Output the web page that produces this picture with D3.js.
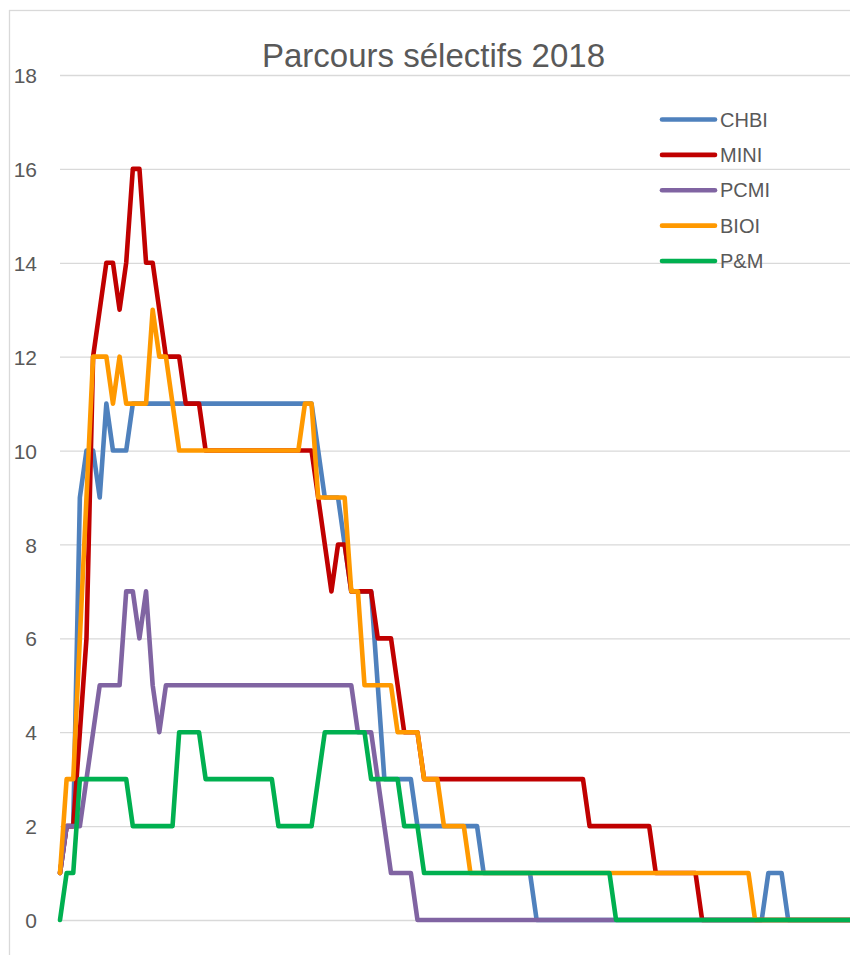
<!DOCTYPE html>
<html><head><meta charset="utf-8">
<script src="https://cdn.jsdelivr.net/npm/d3@7/dist/d3.min.js"></script>
<style>body{margin:0;background:#fff}svg{display:block}</style>
</head><body>
<svg id="chart" width="850" height="955"></svg>
<script>
const chartTitle = "Parcours sélectifs 2018";
const seriesNames = ["CHBI", "MINI", "PCMI", "BIOI", "P&M"];
const seriesColors = ["#4F81BD", "#C00000", "#8064A2", "#FF9900", "#00B050"];
const yTickValues = [0, 2, 4, 6, 8, 10, 12, 14, 16, 18];

const CHBI = [
 1,2,2,9,10,10,9,11,10,10,
 10,11,11,11,11,11,11,11,11,11,
 11,11,11,11,11,11,11,11,11,11,
 11,11,11,11,11,11,11,11,11,10,
 9,9,9,8,7,7,7,7,5,3,
 3,3,3,3,2,2,2,2,2,2,
 2,2,2,2,1,1,1,1,1,1,
 1,1,0,0,0,0,0,0,0,0,
 0,0,0,0,0,0,0,0,0,0,
 0,0,0,0,0,0,0,0,0,0,
 0,0,0,0,0,0,0,1,1,1,
 0,0,0,0,0,0,0,0,0,0,
 0,0,0,0,0];
const MINI = [
 1,2,2,4,6,12,13,14,14,13,
 14,16,16,14,14,13,12,12,12,11,
 11,11,10,10,10,10,10,10,10,10,
 10,10,10,10,10,10,10,10,10,9,
 8,7,8,8,7,7,7,7,6,6,
 6,5,4,4,4,3,3,3,3,3,
 3,3,3,3,3,3,3,3,3,3,
 3,3,3,3,3,3,3,3,3,3,
 2,2,2,2,2,2,2,2,2,2,
 1,1,1,1,1,1,1,0,0,0,
 0,0,0,0,0,0,0,0,0,0,
 0,0,0,0,0,0,0,0,0,0,
 0,0,0,0,0];
const PCMI = [
 1,2,2,2,3,4,5,5,5,5,
 7,7,6,7,5,4,5,5,5,5,
 5,5,5,5,5,5,5,5,5,5,
 5,5,5,5,5,5,5,5,5,5,
 5,5,5,5,5,4,4,4,3,2,
 1,1,1,1,0,0,0,0,0,0,
 0,0,0,0,0,0,0,0,0,0,
 0,0,0,0,0,0,0,0,0,0,
 0,0,0,0,0,0,0,0,0,0,
 0,0,0,0,0,0,0,0,0,0,
 0,0,0,0,0,0,0,0,0,0,
 0,0,0,0,0,0,0,0,0,0,
 0,0,0,0,0];
const BIOI = [
 1,3,3,6,9,12,12,12,11,12,
 11,11,11,11,13,12,12,11,10,10,
 10,10,10,10,10,10,10,10,10,10,
 10,10,10,10,10,10,10,11,11,9,
 9,9,9,9,7,7,5,5,5,5,
 5,4,4,4,4,3,3,3,2,2,
 2,2,1,1,1,1,1,1,1,1,
 1,1,1,1,1,1,1,1,1,1,
 1,1,1,1,1,1,1,1,1,1,
 1,1,1,1,1,1,1,1,1,1,
 1,1,1,1,1,0,0,0,0,0,
 0,0,0,0,0,0,0,0,0,0,
 0,0,0,0,0];
const PM = [
 0,1,1,3,3,3,3,3,3,3,
 3,2,2,2,2,2,2,2,4,4,
 4,4,3,3,3,3,3,3,3,3,
 3,3,3,2,2,2,2,2,2,3,
 4,4,4,4,4,4,4,3,3,3,
 3,3,2,2,2,1,1,1,1,1,
 1,1,1,1,1,1,1,1,1,1,
 1,1,1,1,1,1,1,1,1,1,
 1,1,1,1,0,0,0,0,0,0,
 0,0,0,0,0,0,0,0,0,0,
 0,0,0,0,0,0,0,0,0,0,
 0,0,0,0,0,0,0,0,0,0,
 0,0,0,0,0];

const days = d3.range(1, CHBI.length + 1);
const seriesValues = [CHBI, MINI, PCMI, BIOI, PM];

// layout
const W = 850, H = 955;
const plotLeft = 60, step = 6.62;
const plotRight = plotLeft + step * (days.length - 1);
const yTop = 75, yBottom = 920;
const fontFam = "'Liberation Sans', Arial, sans-serif";
const textColor = "#595959";
const gridColor = "#d9d9d9";

const svg = d3.select("#chart");
svg.append("rect").attr("width", W).attr("height", H).attr("fill", "#fff");
svg.append("rect").attr("x", 9.5).attr("y", 10.5).attr("width", 1000).attr("height", 1000)
  .attr("fill", "none").attr("stroke", gridColor).attr("stroke-width", 1.3);

const x = d3.scalePoint().domain(days).range([plotLeft, plotRight]);
const y = d3.scaleLinear().domain([0, 18]).range([yBottom, yTop]);

// gridlines + y axis labels via d3 axis
const yAxis = d3.axisLeft(y).tickValues(yTickValues).tickSize(-(plotRight - plotLeft)).tickPadding(23);
const gy = svg.append("g").attr("transform", `translate(${plotLeft},0)`).call(yAxis);
gy.select(".domain").remove();
gy.selectAll(".tick line").attr("stroke", gridColor).attr("stroke-width", 1.3);
gy.selectAll(".tick text").attr("fill", textColor).style("font-family", fontFam).style("font-size", "21px")
  .attr("x", 37 - plotLeft).attr("dy", "0.36em");

// lines
const line = d3.line().x((d, i) => x(days[i])).y(d => y(d));
seriesValues.forEach((vals, k) => {
  svg.append("path").datum(vals).attr("d", line)
    .attr("fill", "none").attr("stroke", seriesColors[k]).attr("stroke-width", 4.6)
    .attr("stroke-linejoin", "round").attr("stroke-linecap", "round");
});

// title
svg.append("text").attr("x", 433.5).attr("y", 67).attr("text-anchor", "middle")
  .attr("fill", textColor).style("font-family", fontFam).style("font-size", "33px")
  .text(chartTitle);

// legend
const legY = d3.scalePoint().domain(seriesNames).range([119.5, 261]);
const leg = svg.append("g");
seriesNames.forEach((n, k) => {
  const yy = legY(n);
  leg.append("line").attr("x1", 662).attr("x2", 715).attr("y1", yy).attr("y2", yy)
    .attr("stroke", seriesColors[k]).attr("stroke-width", 4.6).attr("stroke-linecap", "round");
  leg.append("text").attr("x", 720).attr("y", yy + 7).attr("fill", textColor)
    .style("font-family", fontFam).style("font-size", "20px").text(n);
});
</script>
</body></html>
